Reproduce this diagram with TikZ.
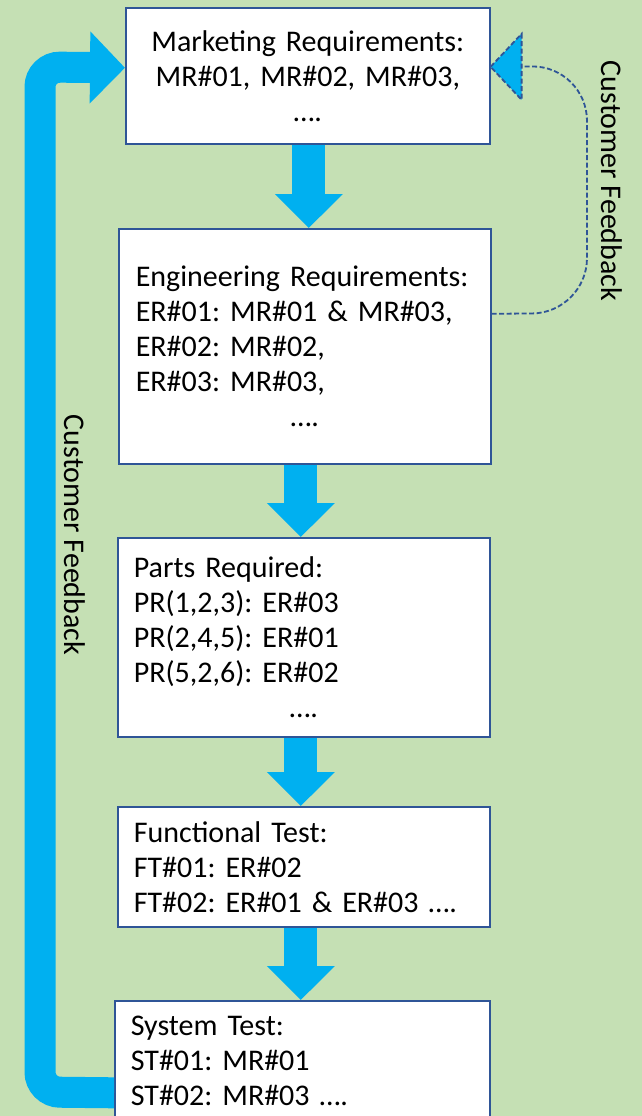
\documentclass[tikz,border=0pt]{standalone}
\usepackage{fontspec}
\setmainfont{Carlito}
\usetikzlibrary{arrows.meta,calc}
\definecolor{bg}{HTML}{C5E0B4}
\definecolor{blueA}{HTML}{00B0F0}
\definecolor{bdr}{HTML}{2F5597}
\newcommand{\fsz}{\fontsize{30}{35}\selectfont\frenchspacing\hyphenpenalty=10000\exhyphenpenalty=10000}
\begin{document}
\begin{tikzpicture}[x=1pt,y=-1pt,
  box/.style={draw=bdr,line width=1.6pt,fill=white,anchor=north west,inner ysep=0pt,font=\fsz,align=left},
  flow/.style={blueA,line width=33pt,-{Triangle[width=66pt,length=34pt]}},
  fbband/.style={blueA,line width=31pt,rounded corners=20pt,-{Triangle[width=70pt,length=35pt]}},
  fbdash/.style={bdr,dash pattern=on 5pt off 2.5pt,line width=1.8pt,rounded corners=55pt},
  lbl/.style={rotate=-90,font=\fsz,inner sep=0pt}]
\useasboundingbox (0,0) rectangle (642,1116);
\fill[bg] (0,0) rectangle (642,1116);

\node[box,align=center,text width=364pt,inner xsep=0pt,minimum height=136pt] (b1) at (125,7)
  {Marketing Requirements:\\ MR\#01, MR\#02, MR\#03,\\ ….};
\node[box,text width=338pt,inner xsep=17pt,minimum height=235pt] (b2) at (118,228)
  {Engineering~Requirements:\\ ER\#01:~MR\#01~\&~MR\#03,\\ ER\#02: MR\#02,\\ ER\#03: MR\#03,\\ \makebox[\linewidth]{….}};
\node[box,text width=340pt,inner xsep=16pt,minimum height=199pt] (b3) at (117,537)
  {Parts Required:\\ PR(1,2,3): ER\#03\\ PR(2,4,5): ER\#01\\ PR(5,2,6): ER\#02\\ \makebox[\linewidth]{….}};
\node[box,text width=340pt,inner xsep=16pt,minimum height=120pt] (b4) at (117,806)
  {Functional Test:\\ FT\#01: ER\#02\\ FT\#02:~ER\#01~\&~ER\#03~….};
\node[box,text width=343pt,inner xsep=16pt,minimum height=120pt] (b5) at (114,1000)
  {System Test:\\ ST\#01: MR\#01\\ ST\#02:~MR\#03~….};

\draw[flow] ([xshift=1pt]b1.south) -- ([xshift=1pt]b1.south |- b2.north);
\draw[flow] ([xshift=-4pt]b2.south) -- ([xshift=-4pt]b2.south |- b3.north);
\draw[flow] ([xshift=-3pt]b3.south) -- ([xshift=-3pt]b3.south |- b4.north);
\draw[flow] ([xshift=-3pt]b4.south) -- ([xshift=-3pt]b4.south |- b5.north);

\draw[fbband] ([yshift=-32pt]b5.west) -- (40,1092) -- (40,67) -- ([yshift=8pt]b1.west);

\draw[fbdash,shorten >=31pt] ([yshift=32.5pt]b2.east) -- (587,313) -- (587,66) -- ([yshift=9pt]b1.east);
\filldraw[fill=blueA,draw=bdr,dash pattern=on 5pt off 2.5pt,line width=1.8pt] ([yshift=9pt]b1.east) -- ++(31,-33) -- ++(0,66) -- cycle;

\node[lbl] (cfL) at (75,535) {Customer Feedback};
\node[lbl] (cfR) at (612,181) {Customer Feedback};
\end{tikzpicture}
\end{document}
